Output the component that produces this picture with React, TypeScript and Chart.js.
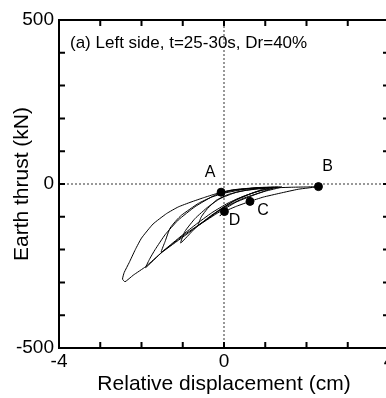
import React, { useEffect, useRef } from "react";
import { Chart, registerables } from "chart.js";

Chart.register(...registerables);

// Hysteresis path: relative displacement (cm) and earth thrust (kN)
const dispCm = [
  -0.07, 0.3, 0.8, 1.3,
  0.9, 0.5, 0.1, -0.3, -0.7, -1.1, -1.5, -1.9,
  -1.8, -1.67, -1.43, -1.11, -0.7, -0.22, 0.2, 0.7, 1.1,
  0.7, 0.3, -0.1, -0.6, -1.0, -1.5, -1.9, -2.2, -2.4,
  -2.46, -2.42, -2.3, -2.15, -2.0, -1.72, -1.39, -1.11, -0.8, -0.5, -0.2, 0.2, 0.8, 1.4,
  1.0, 0.5, 0.0, -0.5, -1.0, -1.52,
  -1.43, -1.31, -1.15, -1.03, -0.62, -0.3, 0.0, 0.5, 1.0,
  0.6, 0.2, -0.3, -0.7, -1.05,
  -0.95, -0.7, -0.38, -0.1, 0.3, 0.8, 1.2,
  0.8, 0.3, -0.2, -0.62,
  -0.55, -0.4, -0.18, 0.1, 0.5, 1.0, 1.6, 2.0, 2.29,
  1.8, 1.36, 0.95, 0.63, 0.3, 0.01, -0.1, -0.05,
];
const thrustKN = [
  -25, -17, -12, -10,
  -20, -36, -58, -88, -125, -165, -207, -255,
  -228, -200, -155, -110, -69, -34, -20, -13, -12,
  -27, -47, -78, -125, -162, -208, -252, -278, -298,
  -290, -270, -240, -200, -165, -122, -90, -70, -55, -42, -30, -18, -11, -9,
  -22, -42, -72, -115, -158, -208,
  -176, -135, -110, -95, -59, -40, -28, -16, -12,
  -32, -55, -95, -135, -180,
  -145, -105, -69, -45, -25, -14, -11,
  -30, -55, -92, -125,
  -100, -75, -49, -32, -20, -13, -10, -9, -8,
  -16, -28, -40, -53, -68, -84, -97, -92,
];

// Marked states
const markerLabels = ["A", "B", "C", "D"];
const markerX = [-0.07, 2.29, 0.63, 0.01];
const markerY = [-25, -8, -53, -84];

// Axes
const xTickLabels = [-4, 0, 4];
const yTickLabels = [-500, 0, 500];
const xRange = [-4, 4];
const yRange = [-500, 500];
const chartTitle = "(a) Left side, t=25-30s, Dr=40%";
const xTitle = "Relative displacement (cm)";
const yTitle = "Earth thrust (kN)";

const FONT = "Arial, 'Liberation Sans', Helvetica, sans-serif";

// label offsets (style only)
const labelOffsets: Record<string, [number, number]> = {
  A: [-11, -20],
  B: [9, -20],
  C: [13, 9],
  D: [10, 9],
};

const framePlugin = {
  id: "frameTicks",
  afterDatasetsDraw(chart: any) {
    const { ctx, chartArea: a, scales } = chart;
    const xs = scales.x;
    const ys = scales.y;
    ctx.save();
    ctx.strokeStyle = "#000";
    ctx.lineWidth = 2;
    ctx.strokeRect(a.left, a.top, a.right - a.left, a.bottom - a.top);
    ctx.beginPath();
    const tl = 6;
    for (const t of xs.ticks) {
      const px = xs.getPixelForValue(t.value);
      ctx.moveTo(px, a.bottom);
      ctx.lineTo(px, a.bottom - tl);
      ctx.moveTo(px, a.top);
      ctx.lineTo(px, a.top + tl);
    }
    for (const t of ys.ticks) {
      const py = ys.getPixelForValue(t.value);
      ctx.moveTo(a.left, py);
      ctx.lineTo(a.left + tl, py);
      ctx.moveTo(a.right, py);
      ctx.lineTo(a.right - tl, py);
    }
    ctx.stroke();

    ctx.fillStyle = "#000";
    ctx.font = `17px ${FONT}`;
    ctx.textAlign = "left";
    ctx.textBaseline = "middle";
    ctx.fillText(chartTitle, a.left + 11, a.top + 23);

    ctx.font = `16px ${FONT}`;
    ctx.textAlign = "center";
    markerLabels.forEach((lab, i) => {
      const px = xs.getPixelForValue(markerX[i]);
      const py = ys.getPixelForValue(markerY[i]);
      const [dx, dy] = labelOffsets[lab];
      ctx.fillText(lab, px + dx, py + dy);
    });
    ctx.restore();
  },
};

export default function App() {
  const ref = useRef<HTMLCanvasElement>(null);

  useEffect(() => {
    if (!ref.current) return;
    const curve = dispCm.map((x, i) => ({ x, y: thrustKN[i] }));
    const markers = markerX.map((x, i) => ({ x, y: markerY[i] }));
    const chart = new Chart(ref.current, {
      type: "scatter",
      data: {
        datasets: [
          {
            data: markers,
            pointRadius: 4,
            pointBackgroundColor: "#000",
            pointBorderColor: "#000",
            showLine: false,
          },
          {
            data: curve,
            showLine: true,
            pointRadius: 0,
            borderColor: "#000",
            borderWidth: 1,
            tension: 0.15,
          },
          {
            data: [
              { x: xRange[0], y: 0 },
              { x: xRange[1], y: 0 },
            ],
            showLine: true,
            pointRadius: 0,
            borderColor: "#333",
            borderWidth: 1,
            borderDash: [2, 2],
          },
          {
            data: [
              { x: 0, y: yRange[0] },
              { x: 0, y: yRange[1] },
            ],
            showLine: true,
            pointRadius: 0,
            borderColor: "#333",
            borderWidth: 1,
            borderDash: [2, 2],
          },
        ],
      },
      options: {
        animation: false,
        responsive: false,
        events: [],
        layout: { padding: { top: 20, right: 11, left: 0, bottom: 0 } },
        plugins: {
          legend: { display: false },
          tooltip: { enabled: false },
          title: { display: false },
        },
        scales: {
          x: {
            type: "linear",
            min: xRange[0],
            max: xRange[1],
            grid: { display: false, drawTicks: false },
            border: { display: false },
            ticks: {
              stepSize: 1,
              autoSkip: false,
              maxRotation: 0,
              padding: 2,
              color: "#000",
              font: { family: FONT, size: 19 },
              callback: (v: any) =>
                xTickLabels.includes(Number(v)) ? String(v) : "",
            },
            title: {
              display: true,
              text: xTitle,
              color: "#000",
              font: { family: FONT, size: 21 },
              padding: { top: 0, bottom: 1 },
            },
            afterFit: (s: any) => {
              s.height = 50;
            },
          },
          y: {
            type: "linear",
            min: yRange[0],
            max: yRange[1],
            grid: { display: false, drawTicks: false },
            border: { display: false },
            ticks: {
              stepSize: 100,
              autoSkip: false,
              padding: 5,
              color: "#000",
              font: { family: FONT, size: 19 },
              callback: (v: any) =>
                yTickLabels.includes(Number(v)) ? String(v) : "",
            },
            title: {
              display: true,
              text: yTitle,
              color: "#000",
              font: { family: FONT, size: 21 },
              padding: { top: 10, bottom: 0 },
            },
            afterFit: (s: any) => {
              s.width = 59;
            },
          },
        },
      },
      plugins: [framePlugin],
    });
    return () => chart.destroy();
  }, []);

  return (
    <div
      style={{
        position: "fixed",
        left: 0,
        top: 0,
        width: 386,
        height: 398,
        overflow: "hidden",
        background: "#fff",
      }}
    >
      <canvas ref={ref} width={400} height={398} style={{ display: "block" }} />
    </div>
  );
}
